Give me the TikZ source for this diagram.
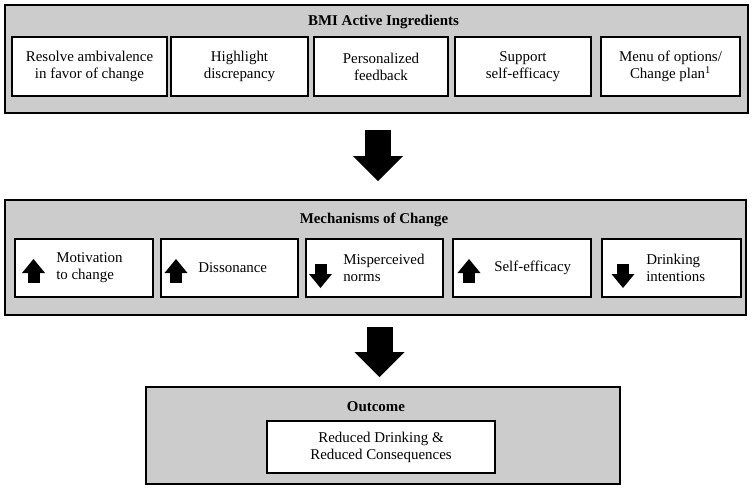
\documentclass[tikz,border=0pt]{standalone}
\usepackage{fontspec}
\setmainfont{Liberation Serif}
\usetikzlibrary{arrows.meta}

\begin{document}
\begin{tikzpicture}[x=0.75pt,y=-0.75pt]
		\tikzset{panel/.style = {draw, line width=1.4pt, fill=gray!40, inner sep=0pt}}
		\tikzset{item/.style = {draw, line width=0.8pt, fill=white, inner sep=0pt, align=center, font=\fontsize{11.2}{12.8}\selectfont}}
		\tikzset{heading/.style = {anchor=base, font=\fontsize{11.2}{12.8}\selectfont\bfseries}}
		\tikzset{label/.style = {anchor=west, align=left, inner sep=0pt, font=\fontsize{11.2}{12.8}\selectfont}}
		\tikzset{bigarrow/.style = {line width=19.5pt, -{Triangle[length=18.75pt, width=37.5pt, line width=0pt]}}}
		\tikzset{upicon/.style = {line width=9pt, -{Triangle[length=10.5pt, width=17.25pt, line width=0pt]}}}

		\useasboundingbox (0,0) rectangle (754,490);

		% panels
		\node[panel, minimum width=557.25pt, minimum height=81pt] (ingr) at (376.5,59) {};
		\node[panel, minimum width=555.75pt, minimum height=86.25pt] (mech) at (375.5,257.5) {};
		\node[panel, minimum width=355.5pt, minimum height=72.75pt] (outc) at (383,435.5) {};

		\node[heading] (ingr_t) at (383.5,25) {BMI Active Ingredients};
		\node[heading] (mech_t) at (374,223) {Mechanisms of Change};
		\node[heading] (outc_t) at (376,411) {Outcome};

		% active ingredients
		\node[item, minimum width=116.25pt, minimum height=44.25pt] (I_1) at (89.5,66.5) {Resolve ambivalence\\in favor of change};
		\node[item, minimum width=102.75pt, minimum height=44.25pt] (I_2) at (239.5,66.5) {Highlight\\discrepancy};
		\node[item, minimum width=100.5pt, minimum height=44.25pt] (I_3) at (381,66.5) {Personalized\\feedback};
		\node[item, minimum width=102pt, minimum height=44.25pt] (I_4) at (523,66.5) {Support\\self-efficacy};
		\node[item, minimum width=104.25pt, minimum height=44.25pt] (I_5) at (670.5,66.5) {Menu of options/\\Change plan\textsuperscript{1}};

		% mechanisms
		\node[item, minimum width=103.5pt, minimum height=43.5pt] (M_1) at (84,268) {};
		\node[item, minimum width=102.75pt, minimum height=43.5pt] (M_2) at (229.5,268) {};
		\node[item, minimum width=102.75pt, minimum height=43.5pt] (M_3) at (374.5,268) {};
		\node[item, minimum width=103.5pt, minimum height=43.5pt] (M_4) at (522,268) {};
		\node[item, minimum width=104.25pt, minimum height=43.5pt] (M_5) at (671.5,268) {};

		\node[label] (m_1) at (56,268) {Motivation\\to change};
		\node[label] (m_2) at (198,268) {Dissonance};
		\node[label] (m_3) at (343,268) {Misperceived\\norms};
		\node[label] (m_4) at (494,268) {Self-efficacy};
		\node[label] (m_5) at (646,268) {Drinking\\intentions};

		\draw[upicon] (33.5,283) -- (33.5,259);
		\draw[upicon] (176,283) -- (176,259);
		\draw[upicon] (320.5,264) -- (320.5,288);
		\draw[upicon] (469,283) -- (469,259);
		\draw[upicon] (623,264) -- (623,288);

		% outcome
		\node[item, minimum width=171pt, minimum height=39pt] (O_1) at (381,447) {Reduced Drinking \&\\Reduced Consequences};

		\draw[bigarrow, shorten <=12pt, shorten >=13.5pt] ([xshift=1.1pt]ingr.south) -- ([xshift=1.1pt]ingr.south |- mech.north);
		\draw[bigarrow, shorten <=8.25pt, shorten >=6.75pt] ([xshift=3pt]mech.south) -- ([xshift=3pt]mech.south |- outc.north);

	\end{tikzpicture}
\end{document}
